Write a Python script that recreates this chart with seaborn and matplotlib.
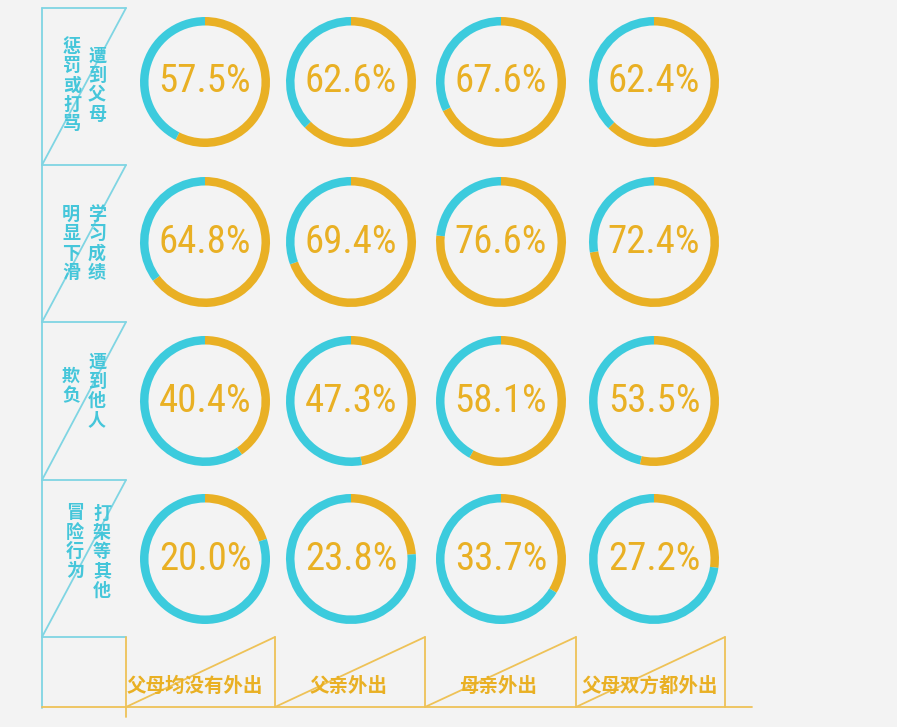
import matplotlib.pyplot as plt
from matplotlib import font_manager
import seaborn as sns

# data
groups = ["父母均没有外出", "父亲外出", "母亲外出", "父母双方都外出"]
row_right = ["遭到父母", "学习成绩", "遭到他人", "打架等其他"]
row_left = ["惩罚或打骂", "明显下滑", "欺负", "冒险行为"]
punished = [57.5, 62.6, 67.6, 62.4]
grades = [64.8, 69.4, 76.6, 72.4]
bullied = [40.4, 47.3, 58.1, 53.5]
risky = [20.0, 23.8, 33.7, 27.2]
values = [punished, grades, bullied, risky]

sns.set_theme(style="white", rc={"figure.facecolor": "#f3f3f3", "axes.facecolor": "#f3f3f3"})
plt.rcParams["font.family"] = ["Noto Sans CJK SC", "DejaVu Sans"]

# pick a narrow font for the percentages if one is around
fonts = font_manager.fontManager.ttflist
pct_font = dict(family="DejaVu Sans", fontsize=21)
for name in ["Roboto Condensed", "Liberation Sans Narrow", "Open Sans Condensed"]:
    if any(f.name == name for f in fonts):
        pct_font = dict(family=name, fontsize=28)
        break
else:
    if any(f.name == "DejaVu Sans" and f.stretch == "condensed" for f in fonts):
        pct_font = dict(family="DejaVu Sans", fontstretch="condensed", fontsize=24)

yellow = "#e9b024"
cyan = "#3ccbdd"
line_cyan = "#7fd5e3"
line_yellow = "#eec257"

W, H = 897, 727
fig = plt.figure(figsize=(W / 100, H / 100), dpi=100)
ax = fig.add_axes([0, 0, 1, 1])
ax.set_xlim(0, W)
ax.set_ylim(H, 0)
ax.axis("off")

# left frame
row_edges = [8, 165, 322, 480, 637]
ax.plot([42, 42], [8, 708], color=line_cyan, lw=1.3)
for y in row_edges:
    ax.plot([42, 126], [y, y], color=line_cyan, lw=1.3)
for y0, y1 in zip(row_edges[:-1], row_edges[1:]):
    ax.plot([126, 42], [y0, y1], color=line_cyan, lw=1.3)

# bottom frame
col_edges = [126, 275, 425, 576, 725]
ax.plot([42, 752], [707, 707], color=line_yellow, lw=1.3)
ax.plot([126, 126], [637, 717], color=line_yellow, lw=1.3)
for x0, x1 in zip(col_edges[:-1], col_edges[1:]):
    ax.plot([x0, x1], [707, 637], color=line_yellow, lw=1.3)
    ax.plot([x1, x1], [637, 707], color=line_yellow, lw=1.3)

# bottom labels
label_x = [195, 349, 498, 650]
for x, g in zip(label_x, groups):
    ax.text(x, 686, g, ha="center", va="center", fontsize=14,
            fontweight="bold", color=yellow)

# vertical row labels
right_pos = [(97, 56.5), (97, 214.5), (97, 362), (102, 513)]
left_pos = [(72, 46.5), (71, 214.5), (71, 376), (75, 513)]
step = 19.3
for i in range(4):
    for (x, y0), txt in [(right_pos[i], row_right[i]), (left_pos[i], row_left[i])]:
        for k, ch in enumerate(txt):
            ax.text(x, y0 + k * step, ch, ha="center", va="center",
                    fontsize=13, fontweight="bold", color="#45c6da")

# donuts
col_cx = [205, 351, 501, 654]
row_cy = [82, 242, 401, 559]
r = 65
for i, row in enumerate(values):
    for j, v in enumerate(row):
        cx, cy = col_cx[j], row_cy[i]
        dax = fig.add_axes([(cx - r) / W, 1 - (cy + r) / H, 2 * r / W, 2 * r / H])
        dax.pie([v, 100 - v], colors=[yellow, cyan], startangle=90,
                counterclock=False, radius=1,
                wedgeprops=dict(width=8.5 / r, linewidth=0))
        dax.set_xlim(-1, 1)
        dax.set_ylim(-1, 1)
        dax.set_aspect("equal")
        dax.axis("off")
        dax.text(0, 0, f"{v:.1f}%", ha="center", va="center",
                 color=yellow, **pct_font)

fig.savefig("out.png", dpi=100, facecolor="#f3f3f3")
